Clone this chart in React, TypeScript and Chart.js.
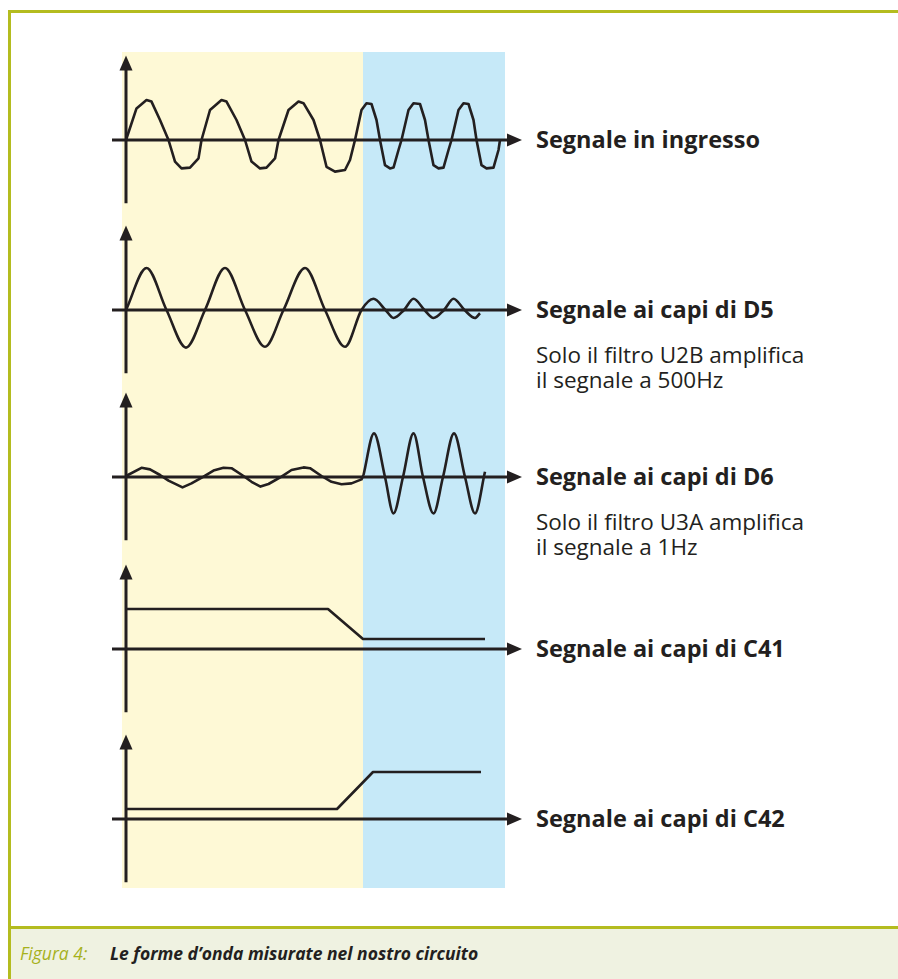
import React, { useEffect, useRef } from "react";
import { Chart, registerables } from "chart.js";

Chart.register(...registerables);

// ---- Data (time units, amplitude units) ----
const inTimes = [0, 2.1, 4.1, 5.1, 6.8, 8.5, 9.8, 11.1, 12.8, 14.5, 15.1, 16.8, 19.1, 20.1, 22.1, 23.8, 25.1, 26.8, 28.1, 29.8, 30.5, 32.5, 34.5, 35.5, 37.5, 38.8, 40.1, 41.8, 43.8, 44.8, 45.8, 47.1, 48.1, 49.1, 50.1, 50.8, 51.8, 52.8, 53.5, 54.5, 55.1, 56.5, 57.5, 58.8, 59.8, 60.5, 61.5, 62.5, 63.5, 64.5, 65.1, 66.5, 67.5, 68.5, 69.5, 70.1, 71.1, 72.1, 73.5, 74.5, 74.8];
const inValues = [0, 7.9, 10, 9.6, 5, 0, -5.4, -7.1, -6.9, -4.6, 0, 7.5, 10, 9.6, 5, 0, -5.4, -7.1, -6.9, -4.6, 0, 7.5, 9.6, 9.2, 5, 0, -6.7, -7.9, -7.5, -5, 0, 7.5, 9.2, 9, 5, 0, -6.3, -7.1, -6.9, -2.5, 0, 7.5, 9.2, 9, 5, 0, -6.3, -7.1, -6.9, -2.5, 0, 7.5, 9.2, 9, 5, 0, -6.3, -7.1, -6.9, -2.5, 0];

const d5Times = [0, 4.1, 8.1, 12, 15.8, 19.8, 23.8, 27.8, 31.5, 35.8, 39.8, 43.8, 47.1, 49.5, 51.9, 53.5, 55.6, 57.5, 59.7, 61.5, 63.6, 65.5, 67.7, 69.8, 70.8];
const d5Values = [0, 10.5, 0, -9.4, 0, 10.5, 0, -9.2, 0, 10.5, 0, -9.2, 0, 2.8, 0, -2, 0, 2.8, 0, -2, 0, 2.8, 0, -2, -0.8];

const d6LowTimes = [0, 3.1, 4.8, 6.8, 8.5, 11.3, 13.1, 15.5, 17.5, 19.5, 21.1, 23.5, 25.1, 26.9, 28.5, 31.1, 33.1, 35.5, 36.8, 39.1, 41.1, 43.1, 45.1, 47.1, 47.5];
const d6LowValues = [0.25, 2.3, 1.9, 0.5, -0.9, -2.6, -1.6, 0.1, 1.6, 2.3, 2.2, 0.25, -1.2, -2.4, -1.75, 0.1, 1.75, 2.4, 2.2, 0.25, -1.2, -1.8, -1.6, -0.6, 0.5];
const d6HighTimes = [47.5, 49.6, 51.8, 53.5, 55.4, 57.5, 59.4, 61.5, 63.4, 65.6, 67.8, 69.8, 71.8];
const d6HighValues = [0.5, 10.9, 0, -9.1, 0, 10.9, 0, -9.1, 0, 10.9, 0, -9.1, 1.3];

const c41Times = [0.2, 40.4, 47.4, 71.8];
const c41Values = [10, 10, 2.5, 2.5];

const c42Times = [0.2, 42.2, 49.4, 71];
const c42Values = [2.5, 2.5, 11.75, 11.75];

const labels = [
  "Segnale in ingresso",
  "Segnale ai capi di D5",
  "Segnale ai capi di D6",
  "Segnale ai capi di C41",
  "Segnale ai capi di C42",
];
const d5Note = ["Solo il filtro U2B amplifica", "il segnale a 500Hz"];
const d6Note = ["Solo il filtro U3A amplifica", "il segnale a 1Hz"];
const captionTag = "Figura 4:";
const captionText = "Le forme d\u2019onda misurate nel nostro circuito";

// ---- Layout constants ----
const INK = "#231f20";
const OLIVE = "#b4bc1f";
const YELLOW = "#fef9d6";
const BLUE = "#c6e9f8";
const CANVAS_LEFT = 100;
const CANVAS_W = 430;
const CANVAS_H = 170;
const AXIS_FROM_TOP = 95;
const X_MIN = -5.2;
const X_MAX = 80.8;
const Y_MIN = -18.75;
const Y_MAX = 23.75;
const H_AXIS = [-2.8, 79.2];
const V_AXIS = [-15.8, 21.1];

const toPts = (t: number[], v: number[]) => t.map((x, i) => ({ x, y: v[i] }));

type Series = { t: number[]; v: number[]; smooth: boolean };
const panels: { axisY: number; label: string; note?: string[]; series: Series[] }[] = [
  { axisY: 140, label: labels[0], series: [{ t: inTimes, v: inValues, smooth: false }] },
  { axisY: 310, label: labels[1], note: d5Note, series: [{ t: d5Times, v: d5Values, smooth: true }] },
  {
    axisY: 477,
    label: labels[2],
    note: d6Note,
    series: [
      { t: d6LowTimes, v: d6LowValues, smooth: false },
      { t: d6HighTimes, v: d6HighValues, smooth: true },
    ],
  },
  { axisY: 649, label: labels[3], series: [{ t: c41Times, v: c41Values, smooth: false }] },
  { axisY: 819, label: labels[4], series: [{ t: c42Times, v: c42Values, smooth: false }] },
];

const arrowAxes = {
  id: "arrowAxes",
  beforeDatasetsDraw(chart: any) {
    const ctx = chart.ctx;
    const xs = chart.scales.x;
    const ys = chart.scales.y;
    const x0 = xs.getPixelForValue(0);
    const y0 = ys.getPixelForValue(0);
    const xa = xs.getPixelForValue(H_AXIS[0]);
    const xb = xs.getPixelForValue(H_AXIS[1]);
    const ya = ys.getPixelForValue(V_AXIS[0]);
    const yb = ys.getPixelForValue(V_AXIS[1]);
    const headL = 15;
    const headW = 6.5;
    ctx.save();
    ctx.strokeStyle = INK;
    ctx.fillStyle = INK;
    ctx.lineWidth = 3;
    ctx.lineCap = "butt";
    ctx.beginPath();
    ctx.moveTo(xa, y0);
    ctx.lineTo(xb - headL + 1, y0);
    ctx.moveTo(x0, ya);
    ctx.lineTo(x0, yb + headL - 1);
    ctx.stroke();
    ctx.beginPath();
    ctx.moveTo(xb, y0);
    ctx.lineTo(xb - headL, y0 - headW);
    ctx.lineTo(xb - headL, y0 + headW);
    ctx.closePath();
    ctx.fill();
    ctx.beginPath();
    ctx.moveTo(x0, yb);
    ctx.lineTo(x0 - headW, yb + headL);
    ctx.lineTo(x0 + headW, yb + headL);
    ctx.closePath();
    ctx.fill();
    ctx.restore();
  },
};

function SignalChart({ series }: { series: Series[] }) {
  const ref = useRef<HTMLCanvasElement>(null);
  useEffect(() => {
    if (!ref.current) return;
    const chart = new Chart(ref.current, {
      type: "line",
      data: {
        datasets: series.map((s) => ({
          data: toPts(s.t, s.v),
          borderColor: INK,
          borderWidth: 2.6,
          pointRadius: 0,
          fill: false,
          clip: false as any,
          tension: s.smooth ? 0.4 : 0,
          cubicInterpolationMode: s.smooth ? ("monotone" as const) : ("default" as const),
          borderJoinStyle: "round" as const,
        })),
      },
      options: {
        animation: false,
        responsive: false,
        maintainAspectRatio: false,
        events: [],
        layout: { padding: 0 },
        plugins: { legend: { display: false }, tooltip: { enabled: false } },
        scales: {
          x: { type: "linear", display: false, min: X_MIN, max: X_MAX },
          y: { type: "linear", display: false, min: Y_MIN, max: Y_MAX },
        },
      },
      plugins: [arrowAxes],
    });
    return () => chart.destroy();
  }, []);
  return <canvas ref={ref} width={CANVAS_W} height={CANVAS_H} style={{ display: "block", width: CANVAS_W, height: CANVAS_H }} />;
}

export default function App() {
  useEffect(() => {
    document.body.style.margin = "0";
  }, []);
  const labelFont = '"Open Sans", sans-serif';
  const captionFont = '"Liberation Sans Narrow", "Open Sans", sans-serif';
  return (
    <div style={{ position: "relative", width: 898, height: 979, background: "#fff", overflow: "hidden", fontFamily: labelFont }}>
      {/* frame */}
      <div style={{ position: "absolute", left: 8, top: 10, width: 890, height: 3, background: OLIVE }} />
      <div style={{ position: "absolute", left: 8, top: 10, width: 3, height: 969, background: OLIVE }} />
      <div style={{ position: "absolute", left: 11, top: 929, width: 887, height: 50, background: "#eff2e1" }} />
      <div style={{ position: "absolute", left: 8, top: 926, width: 890, height: 3, background: OLIVE }} />
      {/* backgrounds */}
      <div style={{ position: "absolute", left: 122, top: 52, width: 241, height: 836, background: YELLOW }} />
      <div style={{ position: "absolute", left: 363, top: 52, width: 142, height: 836, background: BLUE }} />
      {panels.map((p, i) => (
        <React.Fragment key={i}>
          <div style={{ position: "absolute", left: CANVAS_LEFT, top: p.axisY - AXIS_FROM_TOP }}>
            <SignalChart series={p.series} />
          </div>
          <div
            style={{
              position: "absolute",
              left: 536,
              top: p.axisY - 15,
              fontWeight: 700,
              fontSize: 23.5,
              lineHeight: "28px",
              color: INK,
              whiteSpace: "nowrap",
            }}
          >
            {p.label}
          </div>
          {p.note && (
            <div
              style={{
                position: "absolute",
                left: 536,
                top: p.axisY + 32,
                fontWeight: 400,
                fontSize: 22.5,
                lineHeight: "25px",
                color: INK,
                whiteSpace: "nowrap",
              }}
            >
              {p.note.map((l, j) => (
                <div key={j}>{l}</div>
              ))}
            </div>
          )}
        </React.Fragment>
      ))}
      <div
        style={{
          position: "absolute",
          left: 20,
          top: 942,
          fontStyle: "italic",
          fontSize: 17.5,
          lineHeight: "22px",
          whiteSpace: "nowrap",
          fontFamily: captionFont,
          color: "#a6b11c",
        }}
      >
        {captionTag}
      </div>
      <div
        style={{
          position: "absolute",
          left: 110,
          top: 942,
          fontStyle: "italic",
          fontWeight: 700,
          fontSize: 17.5,
          lineHeight: "22px",
          whiteSpace: "nowrap",
          fontFamily: captionFont,
          color: INK,
        }}
      >
        {captionText}
      </div>
    </div>
  );
}
